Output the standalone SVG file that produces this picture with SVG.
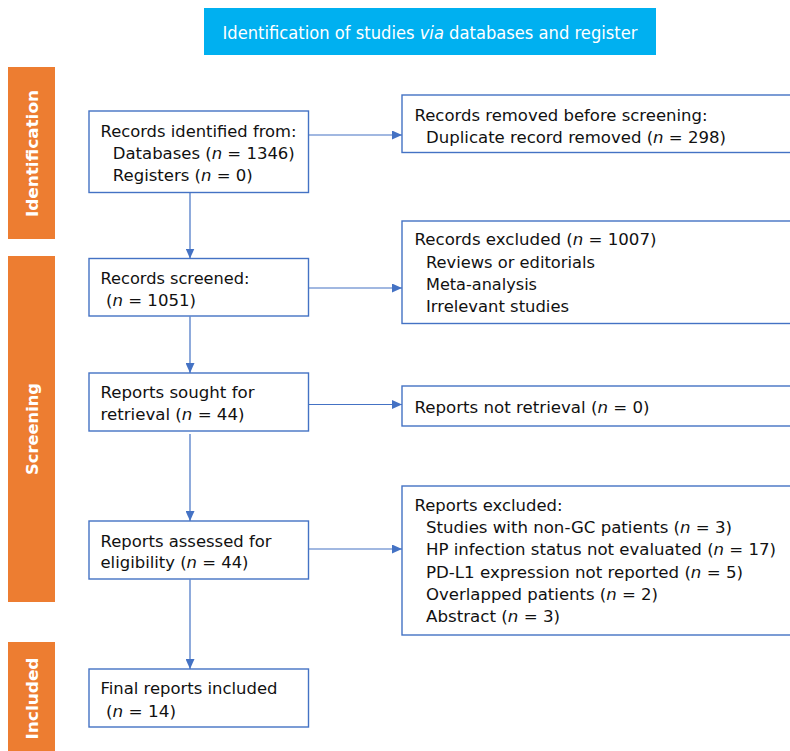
<svg xmlns="http://www.w3.org/2000/svg" width="790" height="751" viewBox="0 0 790 751">
<defs>
<style>
.box{fill:#fff;stroke:#4472C4;stroke-width:1.4}
.bar{fill:#ED7D31}
.t{font-family:"DejaVu Sans","Verdana",sans-serif;font-size:16px;fill:#111}
.lab{font-family:"DejaVu Sans","Verdana",sans-serif;font-size:16px;font-weight:bold;fill:#fff}
.hd{font-family:"DejaVu Sans","Verdana",sans-serif;font-size:17px;fill:#fff}
.c{stroke:#4472C4;stroke-width:1.2;fill:none}
</style>
<marker id="ah" markerUnits="userSpaceOnUse" markerWidth="10" markerHeight="9" refX="10" refY="4.5" orient="auto">
<path d="M0,0 L10,4.5 L0,9 z" fill="#4472C4"/>
</marker>
</defs>
<rect width="790" height="751" fill="#fff"/>

<g id="header">
<rect x="204" y="8" width="452" height="47" fill="#00B0F0"/>
<text class="hd" x="430" y="38.5" text-anchor="middle" textLength="415" lengthAdjust="spacingAndGlyphs">Identification of studies <tspan font-style="italic">via</tspan> databases and register</text>
</g>

<g id="phase-identification">
<rect class="bar" x="8" y="67" width="47" height="172"/>
<text class="lab" transform="translate(38,153.5) rotate(-90)" text-anchor="middle" textLength="127" lengthAdjust="spacingAndGlyphs">Identification</text>
</g>
<g id="phase-screening">
<rect class="bar" x="8" y="256" width="47" height="346"/>
<text class="lab" transform="translate(38,429) rotate(-90)" text-anchor="middle" textLength="92" lengthAdjust="spacingAndGlyphs">Screening</text>
</g>
<g id="phase-included">
<rect class="bar" x="8" y="642" width="47" height="112"/>
<text class="lab" transform="translate(37.5,698.5) rotate(-90)" text-anchor="middle" textLength="82" lengthAdjust="spacingAndGlyphs">Included</text>
</g>

<g id="connectors">
<line class="c" x1="309" y1="135" x2="402" y2="135" marker-end="url(#ah)"/>
<line class="c" x1="309" y1="288" x2="402" y2="288" marker-end="url(#ah)"/>
<line class="c" x1="309" y1="404.5" x2="402" y2="404.5" marker-end="url(#ah)"/>
<line class="c" x1="309" y1="549" x2="402" y2="549" marker-end="url(#ah)"/>
<line class="c" x1="190" y1="192.5" x2="190" y2="258.5" marker-end="url(#ah)"/>
<line class="c" x1="190" y1="316.5" x2="190" y2="373" marker-end="url(#ah)"/>
<line class="c" x1="190" y1="434" x2="190" y2="521" marker-end="url(#ah)"/>
<line class="c" x1="190" y1="579.5" x2="190" y2="669" marker-end="url(#ah)"/>
</g>

<g id="records-identified">
<rect class="box" x="89" y="111" width="219.5" height="81.5"/>
<text class="t" x="100.5" y="136.5" textLength="196" lengthAdjust="spacingAndGlyphs">Records identified from:</text>
<text class="t" x="112.8" y="159" textLength="182" lengthAdjust="spacingAndGlyphs">Databases (<tspan font-style="italic">n</tspan> = 1346)</text>
<text class="t" x="112.8" y="181" textLength="140" lengthAdjust="spacingAndGlyphs">Registers (<tspan font-style="italic">n</tspan> = 0)</text>
</g>

<g id="records-removed">
<rect class="box" x="402" y="95" width="400" height="57.5"/>
<text class="t" x="414.5" y="120.7" textLength="293" lengthAdjust="spacingAndGlyphs">Records removed before screening:</text>
<text class="t" x="426" y="142.7" textLength="300" lengthAdjust="spacingAndGlyphs">Duplicate record removed (<tspan font-style="italic">n</tspan> = 298)</text>
</g>

<g id="records-screened">
<rect class="box" x="89" y="258.5" width="219.5" height="57.5"/>
<text class="t" x="100.5" y="283.5" textLength="149" lengthAdjust="spacingAndGlyphs">Records screened:</text>
<text class="t" x="106" y="305.7" textLength="90" lengthAdjust="spacingAndGlyphs">(<tspan font-style="italic">n</tspan> = 1051)</text>
</g>

<g id="records-excluded">
<rect class="box" x="402" y="221" width="400" height="102.5"/>
<text class="t" x="414.5" y="245" textLength="242" lengthAdjust="spacingAndGlyphs">Records excluded (<tspan font-style="italic">n</tspan> = 1007)</text>
<text class="t" x="426" y="267.7" textLength="169" lengthAdjust="spacingAndGlyphs">Reviews or editorials</text>
<text class="t" x="426" y="290" textLength="111" lengthAdjust="spacingAndGlyphs">Meta-analysis</text>
<text class="t" x="426" y="311.7" textLength="143" lengthAdjust="spacingAndGlyphs">Irrelevant studies</text>
</g>

<g id="reports-sought">
<rect class="box" x="89" y="373" width="219.5" height="58"/>
<text class="t" x="100.5" y="398.3" textLength="154" lengthAdjust="spacingAndGlyphs">Reports sought for</text>
<text class="t" x="100.5" y="420" textLength="144" lengthAdjust="spacingAndGlyphs">retrieval (<tspan font-style="italic">n</tspan> = 44)</text>
</g>

<g id="reports-not-retrieved">
<rect class="box" x="402" y="386" width="400" height="40"/>
<text class="t" x="414.5" y="412.7" textLength="235" lengthAdjust="spacingAndGlyphs">Reports not retrieval (<tspan font-style="italic">n</tspan> = 0)</text>
</g>

<g id="reports-assessed">
<rect class="box" x="89" y="521" width="219.5" height="58"/>
<text class="t" x="100.5" y="546.7" textLength="171" lengthAdjust="spacingAndGlyphs">Reports assessed for</text>
<text class="t" x="100.5" y="568.3" textLength="148" lengthAdjust="spacingAndGlyphs">eligibility (<tspan font-style="italic">n</tspan> = 44)</text>
</g>

<g id="reports-excluded">
<rect class="box" x="402" y="486" width="400" height="149"/>
<text class="t" x="414.5" y="510.7" textLength="148" lengthAdjust="spacingAndGlyphs">Reports excluded:</text>
<text class="t" x="426" y="533.3" textLength="306" lengthAdjust="spacingAndGlyphs">Studies with non-GC patients (<tspan font-style="italic">n</tspan> = 3)</text>
<text class="t" x="426" y="555" textLength="350" lengthAdjust="spacingAndGlyphs">HP infection status not evaluated (<tspan font-style="italic">n</tspan> = 17)</text>
<text class="t" x="426" y="577.7" textLength="317" lengthAdjust="spacingAndGlyphs">PD-L1 expression not reported (<tspan font-style="italic">n</tspan> = 5)</text>
<text class="t" x="426" y="600" textLength="232" lengthAdjust="spacingAndGlyphs">Overlapped patients (<tspan font-style="italic">n</tspan> = 2)</text>
<text class="t" x="426" y="621.7" textLength="134" lengthAdjust="spacingAndGlyphs">Abstract (<tspan font-style="italic">n</tspan> = 3)</text>
</g>

<g id="final-included">
<rect class="box" x="89" y="669" width="219.5" height="58"/>
<text class="t" x="100.5" y="694.3" textLength="177" lengthAdjust="spacingAndGlyphs">Final reports included</text>
<text class="t" x="106" y="716.7" textLength="70" lengthAdjust="spacingAndGlyphs">(<tspan font-style="italic">n</tspan> = 14)</text>
</g>
</svg>
